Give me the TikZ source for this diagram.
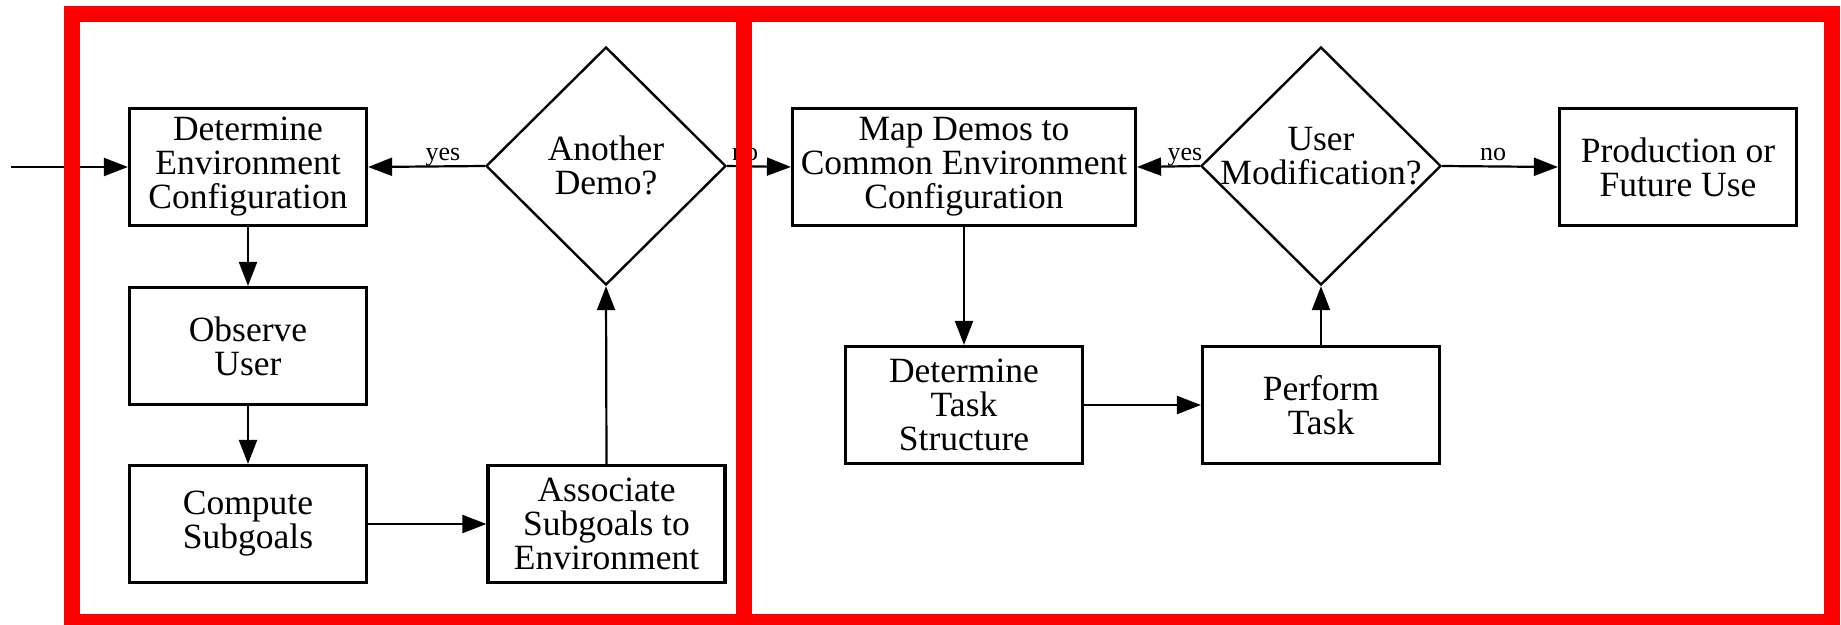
\documentclass[tikz,border=0pt]{standalone}
\usepackage{fontspec}
\setmainfont{Liberation Serif}
\usetikzlibrary{arrows.meta,shapes.geometric}
\begin{document}
\begin{tikzpicture}[x=1pt,y=-1pt,
  stepbox/.style={draw, line width=3.2pt, inner sep=0pt, align=center,
    minimum width=237pt, minimum height=117pt,
    font=\fontsize{35.5}{34}\selectfont},
  decision/.style={draw, diamond, line width=2.4pt, inner sep=0pt,
    minimum width=240pt, minimum height=238pt},
  dtext/.style={align=center, inner sep=0pt, font=\fontsize{35.5}{34}\selectfont},
  flow/.style={line width=2.2pt, -{Triangle[length=24pt,width=18pt]}},
  tag/.style={anchor=base, inner sep=0pt, font=\fontsize{26}{26}\selectfont},
  frame/.style={draw=red, line width=16pt}
]
\useasboundingbox (0,0) rectangle (1841,624);
\fill[white] (0,0) rectangle (1841,624);

% demonstration phase
\node[stepbox] (env) at (248,167) {Determine\\Environment\\Configuration};
\node[stepbox] (observe) at (248,346) {Observe\\User};
\node[stepbox] (compute) at (248,524) {Compute\\Subgoals};
\node[stepbox] (assoc) at (606.5,524) {Associate\\Subgoals to\\Environment};
\node[decision] (demo) at (606,166) {};
\node[dtext] (demotext) at (606,165) {Another\\Demo?};

% generalisation and execution phase
\node[stepbox, minimum width=343pt] (map) at (964,167) {Map Demos to\\Common Environment\\Configuration};
\node[stepbox] (task) at (964,405) {Determine\\Task\\Structure};
\node[stepbox] (perform) at (1321,405) {Perform\\Task};
\node[decision] (usermod) at (1321,166) {};
\node[dtext] (usermodtext) at (1321,156) {User\\Modification?};
\node[stepbox] (prod) at (1678,167) {Production or\\Future Use};

% connectors
\coordinate (start) at (11,167);
\draw[flow] (start) -- (env.west);
\draw[flow] (demo.west) -- (env.east);
\draw[flow] (env.south) -- (observe.north);
\draw[flow] (observe.south) -- (compute.north);
\draw[flow] (compute.east) -- (assoc.west);
\draw[flow] (assoc.north) -- (demo.south);
\draw[flow] (demo.east) -- (map.west);
\draw[flow] (map.south) -- (task.north);
\draw[flow] (task.east) -- (perform.west);
\draw[flow] (perform.north) -- (usermod.south);
\draw[flow] (usermod.west) -- (map.east);
\draw[flow] (usermod.east) -- (prod.west);

% branch labels
\node[tag] (yes1) at (443,160) {yes};
\node[tag] (no1) at (745,160) {no};
\node[tag] (yes2) at (1185,160) {yes};
\node[tag] (no2) at (1493,160) {no};

% phase frames
\draw[frame] (72,14) rectangle (744,622);
\draw[frame] (744,14) rectangle (1832,622);
\end{tikzpicture}
\end{document}
